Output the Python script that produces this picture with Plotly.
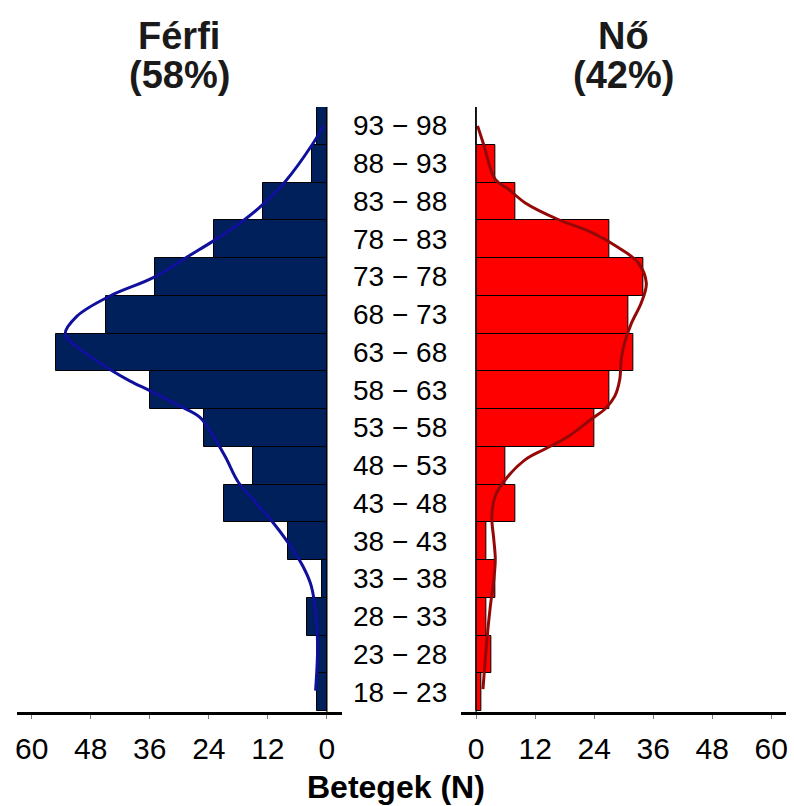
import plotly.graph_objects as go

# Age groups (5-year bins), from youngest to oldest
age_labels = ["18 − 23", "23 − 28", "28 − 33", "33 − 38", "38 − 43", "43 − 48",
              "48 − 53", "53 − 58", "58 − 63", "63 − 68", "68 − 73", "73 − 78",
              "78 − 83", "83 − 88", "88 − 93", "93 − 98"]
age_mid = [20.5, 25.5, 30.5, 35.5, 40.5, 45.5, 50.5, 55.5,
           60.5, 65.5, 70.5, 75.5, 80.5, 85.5, 90.5, 95.5]

# Patient counts per age group
male_n = [2, 2, 4, 1, 8, 21, 15, 25, 36, 55, 45, 35, 23, 13, 3, 2]
female_n = [1, 3, 2, 4, 2, 8, 6, 24, 27, 32, 31, 34, 27, 8, 4, 0]

# Smoothed distribution curves (age, patients)
male_curve_age = [95.5, 93.1, 88.1, 85.1, 83.1, 80.5, 78.1, 75.4, 73.0, 70.3,
                  67.9, 65.9, 63.2, 61.7, 60.4, 58.4, 56.9, 54.4, 51.6,
                  48.3, 46.1, 43.0, 40.4, 37.2, 34.6, 30.6, 26.1, 20.7]
male_curve_n = [0.7, 2.9, 8.5, 13.0, 16.7, 22.5, 28.5, 35.3, 44.0, 50.8,
                53.2, 50.1, 44.0, 40.0, 35.9, 29.9, 25.8, 23.1, 20.6,
                18.0, 15.1, 11.0, 8.0, 4.9, 3.2, 2.2, 1.9, 2.3]
female_curve_age = [95.5, 93.1, 88.4, 87.1, 85.3, 83.1, 81.4, 79.4, 77.4, 74.7,
                    72.1, 69.4, 66.8, 64.6, 61.9, 59.7, 58.0, 56.7, 54.4, 52.7,
                    51.3, 48.7, 46.5, 43.8, 40.7, 38.1, 35.4, 31.9, 27.5, 20.9]
female_curve_n = [0.3, 1.5, 3.9, 6.6, 10.0, 16.7, 23.5, 28.9, 32.9, 34.6,
                  33.6, 31.6, 30.2, 29.5, 29.2, 28.2, 26.2, 23.5, 18.8, 14.0,
                  10.0, 6.0, 3.9, 3.2, 3.6, 3.9, 3.6, 2.9, 2.2, 1.4]

x_ticks = [0, 12, 24, 36, 48, 60]
x_range = [-3, 63]
male_title = ["Férfi", "(58%)"]
female_title = ["Nő", "(42%)"]
x_title = "Betegek (N)"

FONT = "Liberation Sans, Arial, sans-serif"
MALE_FILL = "#00205B"
FEMALE_FILL = "#FF0000"
MALE_LINE = "#10109C"
FEMALE_LINE = "#950808"

W, H = 794, 806
M_L, M_R, M_T, M_B = 17, 6, 107, 94
PLOT_W = W - M_L - M_R
PLOT_H = H - M_T - M_B


def fx(px):
    """Horizontal pixel -> paper fraction."""
    return (px - M_L) / PLOT_W


def fy(py):
    """Vertical pixel (from top) -> paper fraction."""
    return (H - M_B - py) / PLOT_H


left_dom = [0, fx(342.5)]
right_dom = [fx(462.5), 1]
y_range = [98 - PLOT_H / 7.55, 98]

fig = go.Figure()

# Bars
fig.add_trace(go.Bar(
    y=age_mid, x=male_n, orientation="h", width=5,
    marker=dict(color=MALE_FILL, line=dict(color="black", width=1)),
    xaxis="x", yaxis="y", showlegend=False, hoverinfo="x+y",
))
fig.add_trace(go.Bar(
    y=age_mid, x=female_n, orientation="h", width=5,
    marker=dict(color=FEMALE_FILL, line=dict(color="black", width=1)),
    xaxis="x2", yaxis="y", showlegend=False, hoverinfo="x+y",
))

# Smoothed curves
fig.add_trace(go.Scatter(
    x=male_curve_n, y=male_curve_age, mode="lines",
    line=dict(color=MALE_LINE, width=3, shape="spline", smoothing=1.0),
    xaxis="x", yaxis="y", showlegend=False, hoverinfo="skip",
))
fig.add_trace(go.Scatter(
    x=female_curve_n, y=female_curve_age, mode="lines",
    line=dict(color=FEMALE_LINE, width=3, shape="spline", smoothing=1.0),
    xaxis="x2", yaxis="y", showlegend=False, hoverinfo="skip",
))

# Small tick dashes on both sides of the label column
for tx in (-0.017, 1.0125):
    fig.add_trace(go.Scatter(
        x=[tx] * len(age_mid), y=age_mid, mode="markers",
        marker=dict(symbol="line-ew", size=4, line=dict(color="#7a7a7a", width=1)),
        xaxis="x3", yaxis="y", showlegend=False, hoverinfo="skip", cliponaxis=False,
    ))

# Age group labels in the middle column
for lab, yv in zip(age_labels, age_mid):
    fig.add_annotation(
        text=lab, x=0.49, y=yv, xref="x3", yref="y",
        xanchor="center", yanchor="middle", showarrow=False,
        font=dict(family=FONT, size=28, color="black"),
    )

# Zero lines of both panels
for xr in ("x", "x2"):
    fig.add_shape(type="line", xref=xr, yref="y", x0=0, x1=0,
                  y0=y_range[0], y1=98, line=dict(color="black", width=1.2),
                  layer="above")

xaxis_common = dict(
    tickvals=x_ticks, ticktext=[str(v) for v in x_ticks],
    showline=True, linewidth=3, linecolor="black",
    ticks="outside", ticklen=4, tickwidth=1, tickcolor="#7a7a7a",
    ticklabelstandoff=4,
    tickfont=dict(family=FONT, size=30, color="black"),
    showgrid=False, zeroline=False, anchor="y", fixedrange=True,
)

fig.update_layout(
    width=W, height=H,
    margin=dict(l=M_L, r=M_R, t=M_T, b=M_B, pad=0),
    paper_bgcolor="white", plot_bgcolor="white",
    bargap=0, barmode="overlay",
    font=dict(family=FONT, color="black"),
    xaxis=dict(domain=left_dom, range=x_range[::-1], **xaxis_common),
    xaxis2=dict(domain=right_dom, range=x_range, **xaxis_common),
    xaxis3=dict(domain=[left_dom[1], right_dom[0]], range=[0, 1],
                visible=False, anchor="y", fixedrange=True),
    yaxis=dict(range=y_range, visible=False, showgrid=False,
               zeroline=False, fixedrange=True),
)

# Panel titles
left_cx = fx((17 + 342.5) / 2)
right_cx = fx((462.5 + 788) / 2)
for cx, lines in ((left_cx, male_title), (right_cx, female_title)):
    for line_txt, py in zip(lines, (36, 75)):
        fig.add_annotation(
            text=f"<b>{line_txt}</b>", x=cx, y=fy(py), xref="paper", yref="paper",
            xanchor="center", yanchor="middle", showarrow=False,
            font=dict(family=FONT, size=38, color="#1a1a1a"),
        )

# Shared axis title
fig.add_annotation(
    text=f"<b>{x_title}</b>", x=fx(397), y=fy(787), xref="paper", yref="paper",
    xanchor="center", yanchor="middle", showarrow=False,
    font=dict(family=FONT, size=32, color="black"),
)

fig.write_html("out.html")
